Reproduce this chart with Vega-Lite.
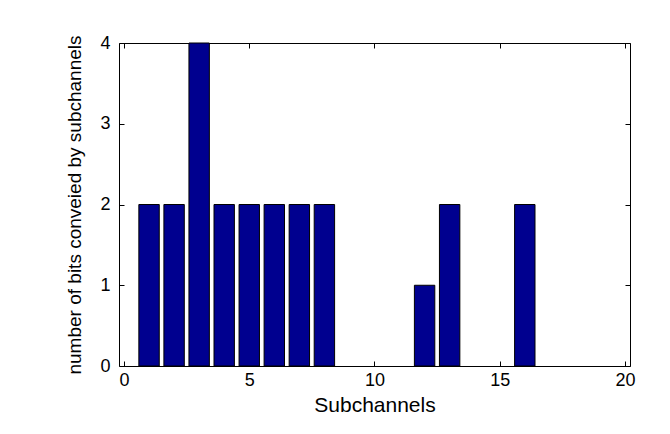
{
  "$schema": "https://vega.github.io/schema/vega-lite/v6.json",
  "width": 511,
  "height": 323,
  "autosize": {"type": "none"},
  "padding": {"left": 119, "top": 43, "right": 40, "bottom": 68},
  "background": "white",
  "config": {
    "view": {"stroke": "black", "strokeWidth": 1},
    "axis": {
      "grid": false,
      "domain": false,
      "tickColor": "black",
      "tickSize": -5,
      "labelFont": "Liberation Sans",
      "labelFontSize": 18,
      "labelColor": "black",
      "titleFont": "Liberation Sans",
      "titleFontWeight": "normal",
      "titleColor": "black"
    }
  },
  "data": {
    "values": [
      {"subchannel": 1, "bits": 2},
      {"subchannel": 2, "bits": 2},
      {"subchannel": 3, "bits": 4},
      {"subchannel": 4, "bits": 2},
      {"subchannel": 5, "bits": 2},
      {"subchannel": 6, "bits": 2},
      {"subchannel": 7, "bits": 2},
      {"subchannel": 8, "bits": 2},
      {"subchannel": 12, "bits": 1},
      {"subchannel": 13, "bits": 2},
      {"subchannel": 16, "bits": 2}
    ]
  },
  "layer": [
    {
      "mark": {"type": "bar", "width": 20.4, "color": "#00008f", "stroke": "black", "strokeWidth": 1},
      "encoding": {
        "x": {
          "field": "subchannel", "type": "quantitative",
          "scale": {"domain": [0, 20], "nice": false, "zero": false},
          "axis": {"values": [0, 5, 10, 15, 20], "title": "Subchannels", "titleFontSize": 21, "labelPadding": 10, "titlePadding": 5, "labelFlush": false}
        },
        "y": {
          "field": "bits", "type": "quantitative",
          "scale": {"domain": [0, 4], "nice": false},
          "axis": {"values": [0, 1, 2, 3, 4], "title": "number of bits conveied by subchannels", "titleFontSize": 19, "labelPadding": 14, "titlePadding": 15}
        }
      }
    },
    {
      "mark": {"type": "bar", "opacity": 0},
      "encoding": {
        "x": {
          "field": "subchannel", "type": "quantitative",
          "axis": {"orient": "top", "values": [0, 5, 10, 15, 20], "labels": false, "title": null}
        },
        "y": {
          "field": "bits", "type": "quantitative",
          "axis": {"orient": "right", "values": [0, 1, 2, 3, 4], "labels": false, "title": null}
        }
      }
    }
  ],
  "resolve": {"axis": {"x": "independent", "y": "independent"}}
}
